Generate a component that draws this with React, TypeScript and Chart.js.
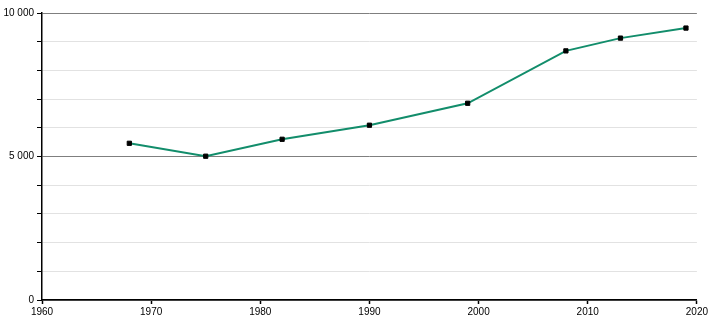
import React, { useEffect, useRef } from "react";
import { Chart, registerables } from "chart.js";

Chart.register(...registerables);

const years = [1968, 1975, 1982, 1990, 1999, 2008, 2013, 2019];
const population = [5460, 5010, 5600, 6090, 6855, 8680, 9125, 9475];
const xTickLabels = [1960, 1970, 1980, 1990, 2000, 2010, 2020];
const yLabelValues = [0, 5000, 10000];

const LINE_COLOR = "#128d6b";

export default function App() {
  const ref = useRef<HTMLCanvasElement | null>(null);

  useEffect(() => {
    if (!ref.current) return;
    const chart = new Chart(ref.current, {
      type: "line",
      data: {
        datasets: [
          {
            data: years.map((y, i) => ({ x: y, y: population[i] })),
            borderColor: LINE_COLOR,
            borderWidth: 2,
            tension: 0,
            pointStyle: "rect",
            pointRadius: 3,
            pointBorderWidth: 1,
            pointBackgroundColor: "#000",
            pointBorderColor: "#000",
          },
        ],
      },
      options: {
        animation: false,
        responsive: false,
        maintainAspectRatio: false,
        layout: { padding: { top: 13, right: 11, left: 0, bottom: 0 } },
        plugins: { legend: { display: false }, tooltip: { enabled: false } },
        scales: {
          x: {
            type: "linear",
            min: xTickLabels[0],
            max: xTickLabels[xTickLabels.length - 1],
            afterFit: (s: any) => {
              s.height = 20;
            },
            afterBuildTicks: (s: any) => {
              s.ticks = xTickLabels.map((v) => ({ value: v }));
            },
            border: { color: "#000", width: 1.5 },
            grid: {
              drawOnChartArea: false,
              drawTicks: true,
              tickLength: 4,
              tickColor: "#000",
              tickWidth: 1.5,
            },
            ticks: {
              color: "#000",
              padding: 2,
              maxRotation: 0,
              font: { family: "'Liberation Sans', Arial, sans-serif", size: 10 },
              callback: (v: any) => String(v),
            },
          },
          y: {
            type: "linear",
            min: 0,
            max: 10000,
            afterFit: (s: any) => {
              s.width = 42;
            },
            border: { color: "#000", width: 1.5 },
            grid: {
              drawTicks: true,
              tickLength: 5,
              tickColor: "#000",
              color: (ctx: any) =>
                ctx.tick && ctx.tick.value % 5000 === 0 ? "#7f7f7f" : "#e2e2e2",
              lineWidth: 1,
            },
            ticks: {
              stepSize: 1000,
              autoSkip: false,
              color: "#000",
              padding: 3,
              font: { family: "'Liberation Sans', Arial, sans-serif", size: 10 },
              callback: (v: any) =>
                yLabelValues.includes(Number(v))
                  ? Number(v).toLocaleString("en-US").replace(/,/g, " ")
                  : "",
            },
          },
        },
      },
    });
    return () => chart.destroy();
  }, []);

  return (
    <div style={{ position: "fixed", left: 0, top: 0, width: 710, height: 320, background: "#fff" }}>
      <canvas ref={ref} width={710} height={320} style={{ width: 710, height: 320 }} />
    </div>
  );
}
